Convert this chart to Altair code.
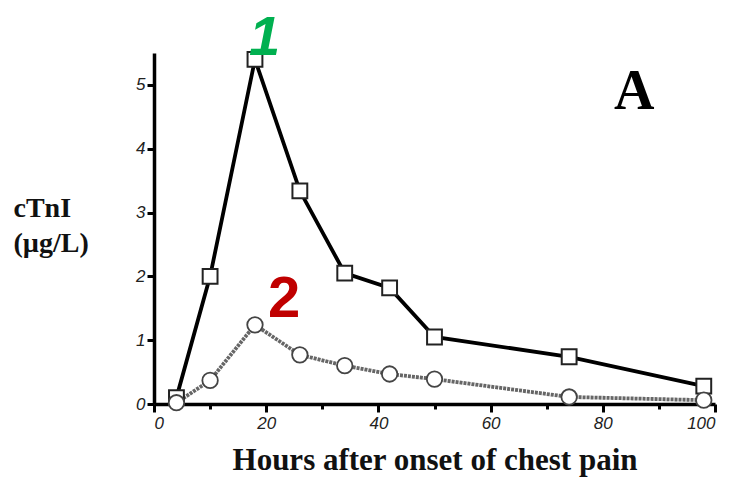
import altair as alt
import pandas as pd

# Hours after onset of chest pain and cTnI concentration (µg/L)
hours = [4, 10, 18, 26, 34, 42, 50, 74, 98]
ctni_1 = [0.10, 2.0, 5.40, 3.34, 2.05, 1.82, 1.05, 0.74, 0.28]
ctni_2 = [0.02, 0.37, 1.24, 0.77, 0.60, 0.47, 0.39, 0.11, 0.06]

x_ticks = [0, 10, 20, 30, 40, 50, 60, 70, 80, 90, 100]
y_ticks = [0, 0.5, 1, 1.5, 2, 2.5, 3, 3.5, 4, 4.5, 5, 5.5]

# Curve labels: text, x, y (baseline), colour, style
ann_text = ["1", "2"]
ann_x = [19.7, 23.2]
ann_y = [5.47, 1.37]
ann_color = ["#00b050", "#c00000"]
ann_style = ["italic", "normal"]

df1 = pd.DataFrame({"h": hours, "v": ctni_1})
df2 = pd.DataFrame({"h": hours, "v": ctni_2})
ann = pd.DataFrame({"t": ann_text, "h": ann_x, "v": ann_y, "c": ann_color, "s": ann_style})
panel = pd.DataFrame({"t": ["A"], "h": [85.6], "v": [4.63]})

x_scale = alt.Scale(domain=[0, 100], nice=False, zero=False)
y_scale = alt.Scale(domain=[0, 5.5], nice=False)

x_axis = alt.Axis(
    values=x_ticks,
    labelExpr="datum.value % 20 == 0 ? datum.label : ''",
    grid=False,
    domainColor="black", domainWidth=3.5,
    tickColor="black", tickWidth=3,
    tickSize={"condition": {"test": "datum.value % 20 == 0", "value": 8}, "value": 5},
    labelFont="Liberation Sans", labelFontStyle="italic", labelFontSize=17,
    labelColor="#222222", labelPadding=3,
    title="Hours after onset of chest pain",
    titleFont="Liberation Serif", titleFontWeight="bold", titleFontSize=31,
    titleColor="#111111", titlePadding=14,
)

y_axis = alt.Axis(
    values=y_ticks,
    labelExpr="datum.value % 1 == 0 ? format(datum.value, 'd') : ''",
    grid=False,
    domainColor="black", domainWidth=3.5,
    tickColor="black", tickWidth=3,
    tickSize={"condition": {"test": "datum.value % 1 == 0", "value": 7}, "value": 4},
    labelFont="Liberation Sans", labelFontStyle="italic", labelFontSize=17,
    labelColor="#222222", labelPadding=2,
    title=["cTnI", "(µg/L)"],
    titleFont="Liberation Serif", titleFontWeight="bold", titleFontSize=28,
    titleColor="#111111", titleAngle=0, titleAlign="left", titleBaseline="top",
    titleX=-141, titleY=141, titleLineHeight=35,
)

x = alt.X("h:Q", scale=x_scale, axis=x_axis)
y = alt.Y("v:Q", scale=y_scale, axis=y_axis)

line1 = alt.Chart(df1).mark_line(color="black", strokeWidth=3.8).encode(x=x, y=y)
line2 = alt.Chart(df2).mark_line(color="#666666", strokeWidth=3.8, strokeDash=[3, 1]).encode(x=x, y=y)

squares = alt.Chart(df1).mark_point(
    shape="square", size=220, filled=True, fill="white", stroke="#222222", strokeWidth=2, opacity=1
).encode(x=x, y=y)
circles = alt.Chart(df2).mark_point(
    shape="circle", size=240, filled=True, fill="white", stroke="#444444", strokeWidth=1.8, opacity=1
).encode(x=x, y=y)

label1 = alt.Chart(ann).transform_filter("datum.s == 'italic'").mark_text(
    font="Liberation Sans", fontSize=56, fontWeight="bold", fontStyle="italic", baseline="alphabetic"
).encode(
    x=alt.X("h:Q", scale=x_scale), y=alt.Y("v:Q", scale=y_scale),
    text="t:N", color=alt.Color("c:N", scale=None),
)
label2 = alt.Chart(ann).transform_filter("datum.s == 'normal'").mark_text(
    font="Liberation Sans", fontSize=58, fontWeight="bold", baseline="alphabetic"
).encode(
    x=alt.X("h:Q", scale=x_scale), y=alt.Y("v:Q", scale=y_scale),
    text="t:N", color=alt.Color("c:N", scale=None),
)

panel_label = alt.Chart(panel).mark_text(
    font="Liberation Serif", fontSize=56, fontWeight="bold", color="black", baseline="alphabetic"
).encode(x=alt.X("h:Q", scale=x_scale), y=alt.Y("v:Q", scale=y_scale), text="t:N")

chart = alt.layer(line1, line2, squares, circles, label1, label2, panel_label).properties(
    width=561, height=351,
    autosize=alt.AutoSizeParams(type="none"),
    padding={"left": 154, "top": 53, "right": 23, "bottom": 82},
    background="white",
).configure_view(stroke=None)

chart.save("out.html", embed_options={"renderer": "svg", "actions": False})
